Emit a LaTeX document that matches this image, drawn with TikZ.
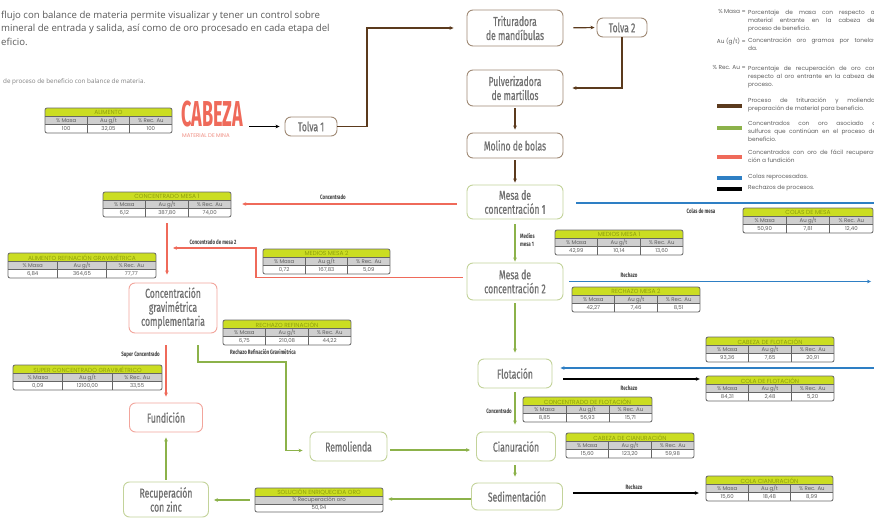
\documentclass[tikz,border=0pt]{standalone}
\usepackage{fontspec}
\usetikzlibrary{arrows.meta,calc}
\setmainfont{Open Sans}
\newfontfamily\nodefont[FakeStretch=0.66,FakeBold=0.6]{Fira Sans}
\newfontfamily\lblfont[FakeStretch=0.7]{Fira Sans}
\newfontfamily\headfont[FakeStretch=0.5]{Fira Sans}
\newfontfamily\tblfont{Poppins}
\definecolor{linebrown}{HTML}{5B3A1D}
\definecolor{boxbrown}{HTML}{A08A76}
\definecolor{linegreen}{HTML}{8CB24A}
\definecolor{boxgreen}{HTML}{C3D39A}
\definecolor{linered}{HTML}{EF6A5A}
\definecolor{boxred}{HTML}{F2A59C}
\definecolor{lightred}{HTML}{F08C80}
\definecolor{lineblue}{HTML}{2E7FC4}
\definecolor{nodegray}{HTML}{707070}
\definecolor{hdrfill}{HTML}{CBDD22}
\definecolor{hdrtext}{HTML}{8E9F0C}
\definecolor{rowfill}{HTML}{CFCFCF}
\definecolor{celltext}{HTML}{5E5E5E}
\definecolor{tblline}{HTML}{666666}
\definecolor{legtext}{HTML}{5E5E5E}
\tikzset{
  proc/.style={draw, rounded corners=6pt, line width=0.9pt, fill=white, text=nodegray,
    font=\nodefont\fontsize{13}{14}\selectfont, align=center, inner sep=0pt},
  brownbox/.style={proc, draw=boxbrown},
  greenbox/.style={proc, draw=boxgreen},
  redbox/.style={proc, draw=boxred},
  arr/.style={-{Stealth[length=4pt,width=3.6pt]}, line width=1.2pt},
  brarr/.style={arr, draw=linebrown},
  garr/.style={arr, draw=linegreen},
  rarr/.style={arr, draw=linered},
  blarr/.style={arr, draw=lineblue},
  bline/.style={line width=1.2pt, draw=lineblue},
  karr/.style={arr, draw=black},
  lbl/.style={font=\lblfont\bfseries\fontsize{6.3}{7.5}\selectfont, text=black!75, inner sep=0pt, align=left},
  hdrtxt/.style={font=\tblfont\fontsize{5.9}{6}\selectfont, text=hdrtext, inner sep=0pt},
  celltxt/.style={font=\tblfont\fontsize{5.4}{6}\selectfont, text=celltext, inner sep=0pt},
  legtxt/.style={font=\tblfont\fontsize{5.8}{8}\selectfont, text=legtext, inner sep=0pt, text width=128pt, align=justify, anchor=north west},
  legkey/.style={font=\tblfont\fontsize{5.8}{8}\selectfont, text=legtext, inner sep=0pt, anchor=north east},
  swatch/.style={line width=3.5pt}
}
\newcommand{\datatable}[8]{%
\begin{scope}[shift={(#2,#3)}]
\begin{scope}
\clip[rounded corners=2pt] (0,0) rectangle (#4,25);
\fill[white] (0,0) rectangle (#4,25);
\fill[hdrfill] (0,0) rectangle (#4,8.3);
\fill[rowfill] (0,8.3) rectangle (#4,16.6);
\end{scope}
\draw[tblline, line width=0.6pt] (0,8.3) -- (#4,8.3) (0,16.6) -- (#4,16.6)
  (#4/3,8.3) -- (#4/3,25) (2*#4/3,8.3) -- (2*#4/3,25);
\draw[tblline, line width=0.8pt, rounded corners=2pt] (0,0) rectangle (#4,25);
\node[inner sep=0pt, minimum width=#4pt, minimum height=25pt] (#1) at (#4/2,12.5) {};
\node[hdrtxt] (#1-h) at (#4/2,4.4) {#5};
\node[celltxt] (#1-a) at (#4/6,12.6) {\% Masa};
\node[celltxt] (#1-b) at (#4/2,12.6) {Au g/t};
\node[celltxt] (#1-c) at (5*#4/6,12.6) {\% Rec. Au};
\node[celltxt] (#1-d) at (#4/6,20.9) {#6};
\node[celltxt] (#1-e) at (#4/2,20.9) {#7};
\node[celltxt] (#1-f) at (5*#4/6,20.9) {#8};
\end{scope}}
\begin{document}
\begin{tikzpicture}[x=1pt,y=-1pt]
\useasboundingbox[fill=white] (0,0) rectangle (874,518);

% intro text
\node[anchor=north west, align=left, inner sep=0pt, text=black!65,
  font=\fontsize{9.6}{13.5}\selectfont] (intro) at (1,10.5)
  {flujo con balance de materia permite visualizar y tener un control sobre\\
   mineral de entrada y salida, así como de oro procesado en cada etapa del\\
   eficio.};
\node[anchor=west, inner sep=0pt, text=black!50, font=\fontsize{6.3}{7}\selectfont] (caption) at (3,82)
  {de proceso de beneficio con balance de materia.};

% legend
\node[legkey] (k1) at (746,9.5) {\% Masa =};
\node[legtxt] (l1) at (748,9.5) {Porcentaje de masa con respecto al\linebreak material entrante en la cabeza del\linebreak proceso de beneficio.};
\node[legkey] (k2) at (746,37.5) {Au (g/t) =};
\node[legtxt] (l2) at (748,37.5) {Concentración oro gramos por tonela-\linebreak da.};
\node[legkey] (k3) at (746,65.5) {\% Rec. Au =};
\node[legtxt] (l3) at (748,65.5) {Porcentaje de recuperación de oro con\linebreak respecto al oro entrante en la cabeza del\linebreak proceso.};
\coordinate (s1a) at (717,106); \coordinate (s1b) at (742,106);
\draw[swatch, linebrown] (s1a) -- (s1b);
\node[legtxt] (l4) at (748,97.5) {Proceso de trituración y molienda,\linebreak preparación de material para beneficio.};
\coordinate (s2a) at (717,128); \coordinate (s2b) at (742,128);
\draw[swatch, linegreen] (s2a) -- (s2b);
\node[legtxt] (l5) at (748,120.5) {Concentrados con oro asociado a\linebreak sulfuros que continúan en el proceso de\linebreak beneficio.};
\coordinate (s3a) at (717,157); \coordinate (s3b) at (742,157);
\draw[swatch, linered] (s3a) -- (s3b);
\node[legtxt] (l6) at (748,149.5) {Concentrados con oro de fácil recupera-\linebreak ción a fundición};
\coordinate (s4a) at (717,178); \coordinate (s4b) at (742,178);
\draw[swatch, lineblue] (s4a) -- (s4b);
\node[legtxt] (l7) at (748,174) {Colas reprocesadas.};
\coordinate (s5a) at (717,189); \coordinate (s5b) at (742,189);
\draw[swatch, black] (s5a) -- (s5b);
\node[legtxt] (l8) at (748,185) {Rechazos de procesos.};

% head
\node[inner sep=0pt, anchor=base west, text depth=0pt, text=linered, font=\headfont\bfseries\fontsize{36}{36}\selectfont] (cabeza) at (181,126.5) {CABEZA};
\node[inner sep=0pt, anchor=base west, text=lightred, font=\tblfont\fontsize{5.4}{6}\selectfont] (mina) at (182,137.5) {MATERIAL DE MINA};

% process nodes
\node[brownbox, minimum width=52pt, minimum height=19pt] (tolva1) at (311,126.5) {Tolva 1};
\node[brownbox, minimum width=96pt, minimum height=36pt] (tritu) at (515,28) {Trituradora\\de mandíbulas};
\node[brownbox, minimum width=50pt, minimum height=19pt] (tolva2) at (622,27.5) {Tolva 2};
\node[brownbox, minimum width=96pt, minimum height=36pt] (pulv) at (515,88) {Pulverizadora\\de martillos};
\node[brownbox, minimum width=96pt, minimum height=25pt] (molino) at (515,145.5) {Molino de bolas};
\node[greenbox, minimum width=96pt, minimum height=34pt] (mesa1) at (515,202) {Mesa de\\concentración 1};
\node[greenbox, minimum width=96pt, minimum height=37pt] (mesa2) at (515,281.5) {Mesa de\\concentración 2};
\node[greenbox, minimum width=74pt, minimum height=29pt] (flot) at (515,373.5) {Flotación};
\node[greenbox, minimum width=79pt, minimum height=29pt] (cian) at (516,446.5) {Cianuración};
\node[greenbox, minimum width=91pt, minimum height=27pt] (sedim) at (517,496.5) {Sedimentación};
\node[greenbox, minimum width=77pt, minimum height=29pt] (remol) at (348.5,446.5) {Remolienda};
\node[redbox, minimum width=88pt, minimum height=50pt] (cgc) at (173,308) {Concentración\\gravimétrica\\complementaria};
\node[redbox, minimum width=73pt, minimum height=29pt] (fund) at (166,417.5) {Fundición};
\node[greenbox, minimum width=85pt, minimum height=35pt] (recup) at (166,499.5) {Recuperación\\con zinc};

% tables
\datatable{alim}{45}{108}{127}{ALIMENTO}{100}{32,05}{100}
\datatable{cm1}{103}{192}{128}{CONCENTRADO MESA 1}{6,12}{387,80}{74,00}
\datatable{arg}{8}{253}{148}{ALIMENTO REFINACIÓN GRAVIMÉTRICA}{6,84}{364,65}{77,77}
\datatable{mm2}{263}{249}{127}{MEDIOS MESA 2}{0,72}{167,83}{5,09}
\datatable{colm}{743}{208}{130}{COLAS DE MESA}{50,90}{7,81}{12,40}
\datatable{mm1}{555}{230}{128}{MEDIOS MESA 1}{42,99}{10,14}{13,60}
\datatable{rm2}{572}{287}{128}{RECHAZO MESA 2}{42,27}{7,46}{8,51}
\datatable{rref}{223}{320}{128}{RECHAZO REFINACIÓN}{6,75}{210,08}{44,22}
\datatable{scg}{13}{365}{149}{SUPER CONCENTRADO GRAVIMÉTRICO}{0,09}{12100,00}{33,55}
\datatable{cabf}{706}{337}{128}{CABEZA DE FLOTACIÓN}{93,36}{7,65}{20,91}
\datatable{colf}{706}{376}{128}{COLA DE FLOTACIÓN}{84,31}{2,48}{5,20}
\datatable{cfl}{523}{397}{129}{CONCENTRADO DE FLOTACIÓN}{8,85}{56,93}{15,71}
\datatable{cabc}{566}{433}{128}{CABEZA DE CIANURACIÓN}{15,60}{123,20}{59,98}
\datatable{colc}{706}{476}{127}{COLA CIANURACIÓN}{15,60}{18,48}{8,99}

% solution table (single column)
\begin{scope}[shift={(255,488)}]
\begin{scope}
\clip[rounded corners=2pt] (0,0) rectangle (128,24);
\fill[white] (0,0) rectangle (128,24);
\fill[hdrfill] (0,0) rectangle (128,8);
\fill[rowfill] (0,8) rectangle (128,16);
\end{scope}
\draw[tblline, line width=0.6pt] (0,8) -- (128,8) (0,16) -- (128,16);
\draw[tblline, line width=0.8pt, rounded corners=2pt] (0,0) rectangle (128,24);
\node[inner sep=0pt, minimum width=128pt, minimum height=24pt] (sol) at (64,12) {};
\node[hdrtxt] (sol-h) at (64,4.2) {SOLUCIÓN ENRIQUECIDA ORO};
\node[celltxt] (sol-a) at (64,12.2) {\% Recuperación oro};
\node[celltxt] (sol-b) at (64,20.2) {50,94};
\end{scope}

% brown connectors
\draw[karr, line width=1pt, shorten <=6pt, shorten >=5pt] (cabeza.east |- tolva1.west) -- (tolva1.west);
\coordinate (bend1) at (367,126.5);
\draw[brarr, shorten >=13pt] (tolva1.east) -- (bend1) |- (tritu.west);
\draw[brarr, shorten <=10pt, shorten >=2pt] (tritu.east) -- (tolva2.west);
\draw[brarr, shorten >=9pt] (tolva2.south) |- (pulv.east);
\draw[brarr, shorten <=2pt, shorten >=3pt] (pulv) -- (molino);
\draw[brarr, shorten <=2pt, shorten >=2pt] (molino) -- (mesa1);

% red connectors
\draw[rarr, shorten <=10pt, shorten >=11pt] ([yshift=-2pt]mesa1.west) -- ([yshift=-2pt]mesa1.west -| cm1.east);
\node[lbl] (lconc) at (333,197) {Concentrado};
\draw[rarr, shorten <=6pt, shorten >=8pt] (cm1.south) -- (cm1.south |- cgc.north);
\coordinate (r2a) at (256,248);
\draw[rarr, shorten <=4pt, shorten >=6pt] ([yshift=4pt]mesa2.west) -| (r2a) -- (cm1.south |- r2a);
\node[lbl] (lcm2) at (213,242) {Concentrado de mesa 2};
\draw[rarr, shorten <=12pt, shorten >=6pt] (cgc.south -| fund.north) -- (fund.north);
\node[lbl, anchor=east] (lsuper) at (160,355) {Super Concentrado};

% blue connectors
\coordinate (edgeA) at (880,203);
\draw[bline, shorten <=13pt] ([yshift=-1pt]mesa1.east) -- ([yshift=-1pt]mesa1.east -| edgeA);
\node[lbl] (lcolas) at (701,211) {Colas de mesa};
\coordinate (edgeB) at (871,281);
\draw[blarr, shorten <=6pt] (mesa2.east) -- (mesa2.east -| edgeB);
\node[lbl] (lrech1) at (629,275) {Rechazo};
\coordinate (edgeC) at (880,368);
\draw[blarr, shorten >=8pt] (edgeC) -- (edgeC -| flot.east);

% black connectors
\draw[karr, shorten <=11pt, shorten >=6pt] ([yshift=-5.5pt]flot.east) -- ([yshift=-5.5pt]flot.east -| colf.west);
\node[lbl] (lrech2) at (629,388) {Rechazo};
\draw[karr, shorten <=10pt, shorten >=7pt] ([yshift=3.5pt]sedim.east) -- ([yshift=3.5pt]sedim.east -| colc.west);
\node[lbl] (lrech3) at (634,487) {Rechazo};

% green connectors
\draw[garr, shorten <=5pt, shorten >=1pt] (mesa1) -- (mesa2);
\node[lbl, anchor=west] (lmedios) at (520,240) {Medios\\mesa 1};
\draw[garr, shorten <=3pt, shorten >=6pt] (mesa2) -- (flot);
\draw[garr, shorten <=4pt, shorten >=7pt] (flot.south) -- (flot.south |- cian.north);
\node[lbl, anchor=east] (lconc2) at (512,411) {Concentrado};
\draw[garr, shorten <=4pt, shorten >=6pt] (cian.south -| flot.south) -- (flot.south |- sedim.north);
\draw[garr, shorten >=5pt] ([yshift=-2.5pt]sedim.west) -- ([yshift=-2.5pt]sedim.west -| sol.east);
\draw[garr, shorten <=5pt, shorten >=5pt] (sol.west) -- (sol.west -| recup.east);
\draw[garr, shorten <=2pt, shorten >=5pt] (recup.north) -- (fund.south);
\coordinate (gB) at (286,362);
\draw[garr, shorten <=12pt, shorten >=7pt] ([xshift=25pt]cgc.south) |- (gB) |- ([yshift=-4pt]remol.west);
\node[lbl, anchor=west] (lrref) at (230,352) {Rechazo Refinación Gravimétrica};
\draw[garr, shorten <=3pt, shorten >=6pt] ([yshift=-3.5pt]remol.east) -- ([yshift=-3.5pt]remol.east -| cian.west);
\end{tikzpicture}
\end{document}
